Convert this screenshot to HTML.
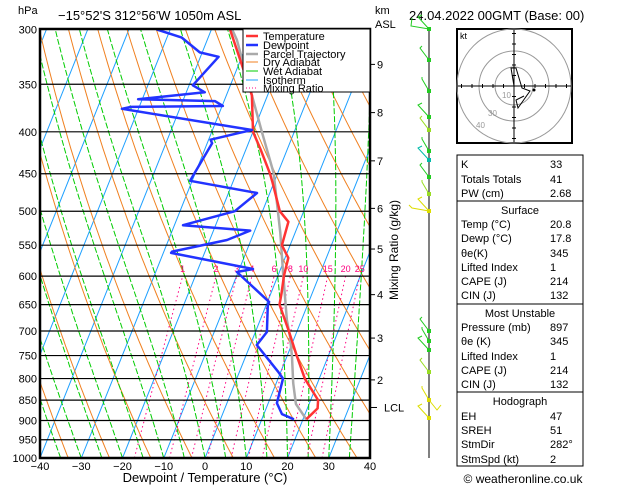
<!DOCTYPE html>
<html><head><meta charset="utf-8"><style>
html,body{margin:0;padding:0;background:#fff;}
svg{display:block;font-family:"Liberation Sans",sans-serif;}
</style></head><body>
<svg id="c" width="629" height="486" viewBox="0 0 629 486" xmlns="http://www.w3.org/2000/svg">
<defs><clipPath id="pc"><rect x="40" y="29" width="330" height="429"/></clipPath></defs>
<g id="bg" clip-path="url(#pc)"></g>
<g id="grid"></g>
<g id="series" clip-path="url(#pc)"></g>
<g id="axes"></g>
<text x="18" y="14" font-size="11">hPa</text>
<text x="58" y="20" font-size="13">−15°52'S  312°56'W  1050m  ASL</text>
<text x="375" y="14" font-size="11">km</text>
<text x="375" y="28" font-size="11">ASL</text>
<text x="409" y="20" font-size="13">24.04.2022 00GMT (Base: 00)</text>
<text x="205" y="482" font-size="13" text-anchor="middle">Dewpoint / Temperature (°C)</text>
<text transform="translate(398,250) rotate(-90)" font-size="12" text-anchor="middle">Mixing Ratio (g/kg)</text>
<g>
<rect x="243" y="29" width="127" height="63" fill="#fff" stroke="#000" stroke-width="1"/>
<line x1="246" y1="36" x2="258" y2="36" stroke="#ff3333" stroke-width="2.5"/><text x="263" y="40" font-size="11">Temperature</text>
<line x1="246" y1="45" x2="258" y2="45" stroke="#2233ff" stroke-width="2.5"/><text x="263" y="49" font-size="11">Dewpoint</text>
<line x1="246" y1="54" x2="258" y2="54" stroke="#aaaaaa" stroke-width="2.5"/><text x="263" y="58" font-size="11">Parcel Trajectory</text>
<line x1="246" y1="62" x2="258" y2="62" stroke="#f08020" stroke-width="1"/><text x="263" y="66" font-size="11">Dry Adiabat</text>
<line x1="246" y1="71" x2="258" y2="71" stroke="#00cc00" stroke-width="1"/><text x="263" y="75" font-size="11">Wet Adiabat</text>
<line x1="246" y1="80" x2="258" y2="80" stroke="#1ea0ff" stroke-width="1"/><text x="263" y="84" font-size="11">Isotherm</text>
<line x1="246" y1="88" x2="258" y2="88" stroke="#ff0080" stroke-width="1" stroke-dasharray="1,2"/><text x="263" y="92" font-size="11">Mixing Ratio</text>
</g>
<g id="wind"></g>
<g id="hodo"></g>
<g id="table"></g>
<text x="523" y="483" font-size="12" text-anchor="middle">© weatheronline.co.uk</text>
</svg>
<script>
const pressureLevels=[1000,950,900,850,800,750,700,650,600,550,500,450,400,350,300];
const xTicks=[-40,-30,-20,-10,0,10,20,30,40];
const tempP=[897,870,850,800,750,700,650,630,600,570,550,515,500,460,450,420,400,361,334,300];
const tempT=[20.8,22.5,21.8,16.5,12.3,8.0,3.2,2.6,1.5,0.8,-2.0,-2.7,-5.8,-10.5,-11.8,-16.5,-20.0,-23.8,-28.7,-35.5];
const dewP=[897,884,857,800,785,728,702,651,645,593,588,562,560,542,528,520,500,475,459,413,409,401,398,375,373,372,367,365,358,351,324,320,307,300];
const dewT=[17.8,14.4,12.1,11.2,9.4,1.6,2.8,0.4,0.4,-10.3,-6.7,-28.1,-28,-15.8,-11.1,-27.9,-16.7,-13.1,-30.5,-28.8,-29.5,-23,-20.4,-54,-52,-29.8,-32.2,-51,-35.5,-39.1,-35.6,-40.6,-46.4,-53.3];
const parcelP=[897,859,810,753,712,679,595,531,449,401,361,309,300];
const parcelT=[20.8,16.8,14.1,11.3,8.9,6.5,1.0,-3.6,-11.0,-17.7,-23.8,-32.8,-35.0];
const mixRatios=[1,2,3,4,6,8,10,15,20,25];
const kmLabels=["2","3","4","5","6","7","8","9"];
const kmP=[803,714,632,556,496,434,379,331];
const NS="http://www.w3.org/2000/svg";
function yP(p){return 458-356*Math.log(1000/p);}
function xT(t,p){return 40+(t+40)*4.125+0.4*(458-yP(p));}
function mk(tag,attrs,parent){const e=document.createElementNS(NS,tag);for(const k in attrs)e.setAttribute(k,attrs[k]);parent.appendChild(e);return e;}
const bg=document.getElementById('bg'),grid=document.getElementById('grid'),ser=document.getElementById('series'),axes=document.getElementById('axes');
function poly(pts,st,parent){return mk('polyline',Object.assign({points:pts.map(q=>q[0].toFixed(1)+','+q[1].toFixed(1)).join(' '),fill:'none'},st),parent);}
for(let t=-130;t<=40;t+=10){const l=poly([[xT(t,1000),yP(1000)],[xT(t,250),yP(250)]],{stroke:'#1ea0ff','stroke-width':1},bg);

}
for(let th=240;th<=480;th+=10){const pts=[];for(let p=1000;p>=290;p-=10){const t=th*Math.pow(p/1000,0.2857)-273.15;pts.push([xT(t,p),yP(p)]);}
const l=poly(pts,{stroke:'#f08020','stroke-width':1},bg);

}
function es(t){return 6.112*Math.exp(17.67*t/(t+243.5));}
for(let t0=-40;t0<=40;t0+=5){let T=t0+273.15;const pts=[];for(let p=1000;p>=290;p-=5){pts.push([xT(T-273.15,p),yP(p)]);const e=es(T-273.15),rs=0.622*e/(p-e);const Lv=2.5e6,Rd=287,cp=1005;const dT=((Rd*T+Lv*rs)/(cp+Lv*Lv*rs*0.622/(Rd*T*T)))/p;T-=dT*5;}
const l=poly(pts,{stroke:'#00cc00','stroke-width':1,'stroke-dasharray':'6,2'},bg);

}
mixRatios.forEach(w=>{const pts=[];for(let p=1000;p>=600;p-=10){const e=w*p/(622+w);const a=Math.log(e/6.112);const t=243.5*a/(17.67-a);pts.push([xT(t,p),yP(p)]);}
const l=poly(pts,{stroke:'#ff0080','stroke-width':1,'stroke-dasharray':'1.5,3'},bg);


const e=w*600/(622+w),a=Math.log(e/6.112),t=243.5*a/(17.67-a);
const tx=mk('text',{x:xT(t,600),y:yP(600)-4,'font-size':9,fill:'#ff0080','text-anchor':'middle'},bg);tx.textContent=w;

});
pressureLevels.forEach(p=>{const y=yP(p);const l=mk('line',{x1:40,x2:370,y1:y,y2:y,stroke:'#000','stroke-width':1.2},grid);


const tx=mk('text',{x:37,y:y+4,'font-size':11,'text-anchor':'end'},axes);tx.textContent=p;

});
xTicks.forEach(t=>{const x=40+(t+40)*4.125;const tx=mk('text',{x:x,y:470,'font-size':11,'text-anchor':'middle'},axes);tx.textContent=(t<0?'−'+(-t):t);

});
kmLabels.forEach((k,i)=>{const y=yP(kmP[i]);mk('line',{x1:370,x2:375,y1:y,y2:y,stroke:'#000'},axes);const tx=mk('text',{x:377,y:y+4,'font-size':11},axes);tx.textContent=k;

});
{const y=yP(858);mk('line',{x1:370,x2:377,y1:y+4,y2:y+4,stroke:'#000'},axes);const tx=mk('text',{x:384,y:y+8,'font-size':11},axes);tx.textContent='LCL';

}
const fr=mk('rect',{x:40,y:29,width:330,height:429,fill:'none',stroke:'#000','stroke-width':2.5},axes);


function series(P,T,color,name){const l=poly(P.map((p,i)=>[xT(T[i],p),yP(p)]),{stroke:color,'stroke-width':2.5,'stroke-linejoin':'round'},ser);

}
series(parcelP,parcelT,'#aaaaaa','parcel-trajectory');
series(tempP,tempT,'#ff3333','temperature-line');
series(dewP,dewT,'#2233ff','dewpoint-line');
const wg=document.getElementById('wind');
mk('line',{x1:429,x2:429,y1:29,y2:458,stroke:'#000','stroke-width':1},wg);
const windY=[29,60,91,117,130,151,160,177,194,211,331,341,350,372,400,418];
const windC=['#22cc22','#22cc22','#22cc22','#22cc22','#99dd22','#22cc22','#00bbaa','#22cc22','#99dd22','#dddd00','#22cc22','#22cc22','#22cc22','#99dd22','#dddd00','#dddd00'];
windY.forEach((y,i)=>{const c=windC[i];mk('rect',{x:427,y:y-2,width:4,height:4,fill:c},wg);
mk('polyline',{points:`429,${y} ${418+(i%3)*2},${y-12} ${422},${y-14}`,fill:'none',stroke:c,'stroke-width':1},wg);});
mk('polyline',{points:'409,205 412,208 429,211',fill:'none',stroke:'#dddd00'},wg);
mk('polyline',{points:'429,400 437,410 441,405',fill:'none',stroke:'#dddd00'},wg);
mk('polyline',{points:'429,29 411,26 412,18',fill:'none',stroke:'#22cc22'},wg);
const hg=document.getElementById('hodo');
mk('rect',{x:457,y:29,width:115,height:114,fill:'#fff',stroke:'#000','stroke-width':2},hg);
[19,35,57].forEach(r=>mk('circle',{cx:514,cy:86,r:r,fill:'none',stroke:'#999'},hg));
mk('line',{x1:458,x2:571,y1:86,y2:86,stroke:'#000'},hg);mk('line',{x1:514,x2:514,y1:30,y2:142,stroke:'#000'},hg);
for(let i=-5;i<=5;i++){if(!i)continue;mk('line',{x1:514+i*10.5,x2:514+i*10.5,y1:84,y2:88,stroke:'#000'},hg);mk('line',{x1:512,x2:516,y1:86+i*10.5,y2:86+i*10.5,stroke:'#000'},hg);}
mk('polyline',{points:'514,86 511,68 516,68 522,88 530,91 518,108 516,100 524,96',fill:'none',stroke:'#000'},hg);
mk('circle',{cx:534,cy:90,r:1.5,fill:'#000'},hg);
[[502,98,'10'],[488,116,'30'],[476,128,'40']].forEach(a=>{const t=mk('text',{x:a[0],y:a[1],'font-size':8,fill:'#999'},hg);t.textContent=a[2];});
{const t=mk('text',{x:460,y:39,'font-size':9},hg);t.textContent='kt';}
const tg=document.getElementById('table');
const boxes=[[155,201],[201,304],[304,392],[392,466]];
boxes.forEach(b=>mk('rect',{x:457,y:b[0],width:126,height:b[1]-b[0],fill:'#fff',stroke:'#000','stroke-width':1},tg));
const rows=[[164,'K','33'],[179,'Totals Totals','41'],[193,'PW (cm)','2.68'],
[210,'Surface',null],[224,'Temp (°C)','20.8'],[238,'Dewp (°C)','17.8'],[253,'θe(K)','345'],[267,'Lifted Index','1'],[281,'CAPE (J)','214'],[295,'CIN (J)','132'],
[313,'Most Unstable',null],[327,'Pressure (mb)','897'],[341,'θe (K)','345'],[356,'Lifted Index','1'],[370,'CAPE (J)','214'],[384,'CIN (J)','132'],
[401,'Hodograph',null],[416,'EH','47'],[430,'SREH','51'],[444,'StmDir','282°'],[459,'StmSpd (kt)','2']];
rows.forEach(r=>{if(r[2]===null){const t=mk('text',{x:520,y:r[0]+4,'font-size':11,'text-anchor':'middle'},tg);t.textContent=r[1];}
else{const t=mk('text',{x:461,y:r[0]+4,'font-size':11},tg);t.textContent=r[1];const v=mk('text',{x:550,y:r[0]+4,'font-size':11},tg);v.textContent=r[2];}});
</script>
</body></html>
